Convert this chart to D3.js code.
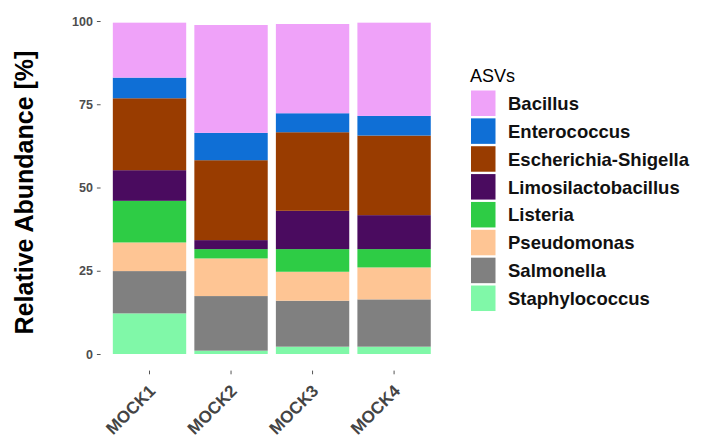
<!DOCTYPE html>
<html>
<head>
<meta charset="utf-8">
<script src="https://cdn.jsdelivr.net/npm/d3@7"></script>
<style>
  html, body { margin: 0; padding: 0; background: #fff; }
  svg { display: block; font-family: "Liberation Sans", Arial, sans-serif; }
</style>
</head>
<body>
<svg id="chart" width="701" height="440"></svg>
<script>
// Samples on the x axis
const samples = ["MOCK1", "MOCK2", "MOCK3", "MOCK4"];

// Taxa, listed top of stack first (legend order)
const taxa = ["Bacillus", "Enterococcus", "Escherichia-Shigella", "Limosilactobacillus",
              "Listeria", "Pseudomonas", "Salmonella", "Staphylococcus"];

// Relative abundance (%) of each taxon per sample, in the order of `samples`
const Bacillus            = [16.5, 32.4, 26.8, 28.0];
const Enterococcus        = [ 6.2,  8.2,  5.7,  5.9];
const EscherichiaShigella = [21.6, 24.0, 23.6, 23.9];
const Limosilactobacillus = [ 9.2,  2.7, 11.5, 10.2];
const Listeria            = [12.5,  2.8,  6.8,  5.5];
const Pseudomonas         = [ 8.6, 11.3,  8.7,  9.6];
const Salmonella          = [12.7, 16.4, 13.8, 14.2];
const Staphylococcus      = [12.2,  1.0,  2.2,  2.2];

const yTicks = [0, 25, 50, 75, 100];

const colors = ["#EFA2F9", "#0F6FD6", "#993C00", "#4A0B5F",
                "#2ECC45", "#FEC594", "#808080", "#80F8A8"];

const seriesValues = [Bacillus, Enterococcus, EscherichiaShigella, Limosilactobacillus,
                      Listeria, Pseudomonas, Salmonella, Staphylococcus];

// Wide table: one row per sample
const table = samples.map((s, i) => {
  const row = { sample: s };
  taxa.forEach((t, j) => { row[t] = seriesValues[j][i]; });
  return row;
});

// Stack from the bottom: Staphylococcus first, Bacillus on top
const stackOrder = taxa.slice().reverse();
const stacked = d3.stack().keys(stackOrder)(table);

const svg = d3.select("#chart");
const panel = { left: 100.6, right: 443, top: 6, bottom: 370.6 };

const x = d3.scaleBand()
  .domain(samples)
  .range([panel.left, panel.right])
  .paddingInner(0.1)
  .paddingOuter(0.15);

const y = d3.scaleLinear().domain([0, 100]).range([354, 21]);

const color = d3.scaleOrdinal().domain(taxa).range(colors);

// Bars
svg.append("g")
  .selectAll("g")
  .data(stacked)
  .join("g")
    .attr("fill", d => color(d.key))
  .selectAll("rect")
  .data(d => d)
  .join("rect")
    .attr("x", d => x(d.data.sample))
    .attr("width", x.bandwidth())
    .attr("y", d => y(d[1]))
    .attr("height", d => y(d[0]) - y(d[1]));

// Y axis
const yAxis = svg.append("g")
  .attr("transform", `translate(${panel.left},0)`)
  .call(d3.axisLeft(y).tickValues(yTicks).tickSize(3.7).tickPadding(4));
yAxis.select(".domain").remove();
yAxis.selectAll(".tick line").attr("stroke", "#555").attr("stroke-width", 1);
yAxis.selectAll(".tick text")
  .attr("fill", "#4D4D4D")
  .attr("font-size", 12.5)
  .attr("font-weight", "bold")
  .attr("font-family", "Liberation Sans, Arial, sans-serif");

// X axis
const xAxis = svg.append("g")
  .attr("transform", `translate(0,${panel.bottom})`)
  .call(d3.axisBottom(x).tickSize(3.7).tickPadding(3));
xAxis.select(".domain").remove();
xAxis.selectAll(".tick line").attr("stroke", "#555").attr("stroke-width", 1);
xAxis.selectAll(".tick text")
  .attr("fill", "#444")
  .attr("font-size", 17)
  .attr("font-weight", "bold")
  .attr("font-family", "Liberation Sans, Arial, sans-serif")
  .attr("text-anchor", "end")
  .attr("dy", null)
  .attr("y", 0)
  .attr("transform", "translate(7,21.5) rotate(-45)");

// Y axis title
svg.append("text")
  .attr("transform", `translate(33,192.5) rotate(-90)`)
  .attr("text-anchor", "middle")
  .attr("font-size", 25)
  .attr("font-weight", "bold")
  .attr("fill", "#000")
  .text("Relative Abundance [%]");

// Legend
const legend = svg.append("g").attr("transform", "translate(471,0)");
legend.append("text")
  .attr("x", -1)
  .attr("y", 82)
  .attr("font-size", 18)
  .attr("fill", "#000")
  .text("ASVs");

const keyStep = 27.86;
const items = legend.selectAll("g.item")
  .data(taxa)
  .join("g")
    .attr("class", "item")
    .attr("transform", (d, i) => `translate(0,${90.5 + i * keyStep})`);
items.append("rect")
  .attr("width", 24.5)
  .attr("height", 25.5)
  .attr("fill", d => color(d));
items.append("text")
  .attr("x", 37)
  .attr("y", 13)
  .attr("dy", "0.35em")
  .attr("font-size", 18.5)
  .attr("font-weight", "bold")
  .attr("fill", "#111")
  .text(d => d);
</script>
</body>
</html>
